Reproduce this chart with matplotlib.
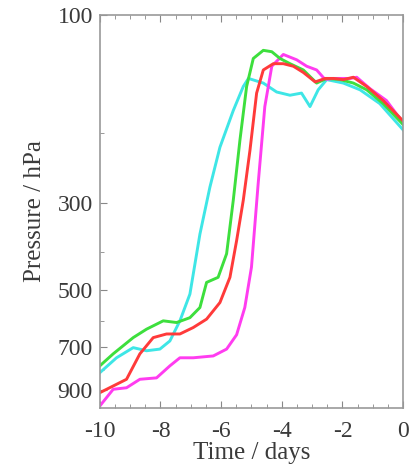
import matplotlib
matplotlib.use('Agg')
import matplotlib.pyplot as plt
from matplotlib.ticker import FixedLocator, NullFormatter, MultipleLocator

plt.rcParams['font.family'] = ['Liberation Serif', 'DejaVu Serif']

# red trajectory
red_t = [-10, -9.12, -8.68, -8.24, -7.8, -7.36, -6.92, -6.48, -6.04, -5.71, -5.49, -5.27,
         -5.05, -4.83, -4.61, -4.28, -3.95, -3.62, -3.29, -2.9, -2.57, -2.3, -1.97, -1.64,
         -1.2, -0.66, 0]
red_p = [914, 845, 728, 662, 648, 648, 624, 594, 539, 465, 375, 296,
         221, 158, 138, 133, 133, 135, 140, 148, 145, 145, 146, 144,
         152, 165, 186]

# green trajectory
green_t = [-10, -9.56, -8.9, -8.46, -7.91, -7.47, -7.03, -6.7, -6.48, -6.1, -5.82, -5.6,
           -5.38, -5.16, -4.94, -4.61, -4.33, -4.06, -3.73, -3.29, -2.85, -2.52, -2.08,
           -1.64, -1.2, -0.66, 0]
green_p = [781, 728, 662, 630, 600, 606, 589, 555, 479, 465, 405, 296,
           208, 152, 129, 123, 124, 129, 133, 138, 149, 145, 146,
           149, 155, 168, 190]

# cyan trajectory
cyan_t = [-10, -9.45, -8.9, -8.46, -8.02, -7.69, -7.36, -7.03, -6.7, -6.37, -6.04, -5.6,
          -5.27, -5.1, -4.61, -4.17, -3.73, -3.35, -3.07, -2.8, -2.52, -1.97, -1.42,
          -0.77, 0]
cyan_p = [813, 745, 702, 715, 708, 675, 600, 513, 361, 274, 217, 175,
          152, 145, 149, 157, 160, 158, 171, 155, 146, 149, 155,
          168, 196]

# magenta trajectory
mag_t = [-10, -9.56, -9.12, -8.68, -8.13, -7.69, -7.36, -6.92, -6.26, -5.82, -5.49, -5.22,
         -5.0, -4.78, -4.56, -4.33, -3.95, -3.51, -3.18, -2.85, -2.57, -2.3, -1.75, -1.53,
         -1.09, -0.55, 0]
mag_p = [988, 896, 888, 845, 838, 781, 745, 745, 737, 708, 651, 555,
         438, 269, 171, 135, 126, 130, 135, 138, 146, 145, 145, 144,
         154, 165, 188]

y_ticks = [100, 300, 500, 700, 900]
x_ticks = [-10, -8, -6, -4, -2, 0]

fig = plt.figure(figsize=(4.16, 4.69), dpi=100)
ax = fig.add_axes([0.240, 0.130, 0.729, 0.838])

ax.plot(cyan_t, cyan_p, color='#3ee6e6', lw=2.1)
ax.plot(mag_t, mag_p, color='#ff3cf0', lw=2.1)
ax.plot(green_t, green_p, color='#3ddf3d', lw=2.1)
ax.plot(red_t, red_p, color='#ff3a3a', lw=2.1)

ax.set_yscale('log')
ax.set_ylim(1000, 100)
ax.set_xlim(-10, 0)
ax.yaxis.set_major_locator(FixedLocator(y_ticks))
ax.yaxis.set_minor_locator(FixedLocator([200, 400, 600, 800]))
ax.yaxis.set_minor_formatter(NullFormatter())
ax.set_yticklabels([str(v) for v in y_ticks])
ax.xaxis.set_major_locator(FixedLocator(x_ticks))
ax.xaxis.set_minor_locator(MultipleLocator(0.5))
ax.set_xticklabels([str(v) for v in x_ticks])

ax.tick_params(which='both', direction='in', top=True, right=False, colors='#888888',
               labelcolor='#3a3a3a', labelsize=17)
ax.tick_params(which='major', length=5)
ax.tick_params(which='minor', length=3)
ax.tick_params(axis='x', pad=9)
ax.tick_params(axis='y', pad=5)
for s in ax.spines.values():
    s.set_color('#999999')
    s.set_linewidth(1.2)

ax.set_xlabel('Time / days', fontsize=18, color='#3a3a3a', labelpad=0)
ax.set_ylabel('Pressure / hPa', fontsize=18, color='#3a3a3a', labelpad=8)

fig.savefig('out.png', dpi=100)
